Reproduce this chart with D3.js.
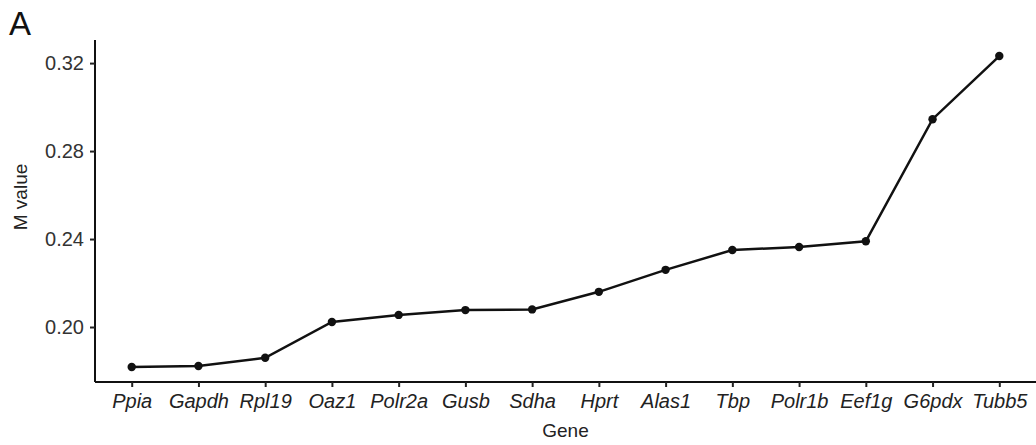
<!DOCTYPE html>
<html>
<head>
<meta charset="utf-8">
<script src="https://cdn.jsdelivr.net/npm/d3@7"></script>
<style>
  body { margin: 0; background: #fff; }
  text { font-family: "Liberation Sans", Arial, sans-serif; }
</style>
</head>
<body>
<svg id="chart" width="1036" height="445"></svg>
<script>
// genes in order of stability (x axis)
var genes = ["Ppia", "Gapdh", "Rpl19", "Oaz1", "Polr2a", "Gusb", "Sdha",
             "Hprt", "Alas1", "Tbp", "Polr1b", "Eef1g", "G6pdx", "Tubb5"];
// geNorm M values
var mValues = [0.1818, 0.1823, 0.186, 0.2023, 0.2055, 0.2077, 0.208,
               0.216, 0.226, 0.235, 0.2364, 0.239, 0.2945, 0.3232];
var yTicks = [0.20, 0.24, 0.28, 0.32];

var svg = d3.select("#chart");
var mLeft = 95, mRight = 1036, mTop = 40, mBottom = 382;

var xScale = d3.scalePoint().domain(genes).range([mLeft, mRight]).padding(0.55);
var yScale = d3.scaleLinear().domain([0.175, 0.3305]).range([mBottom, mTop]);

// panel letter
svg.append("text")
    .attr("x", 9).attr("y", 35)
    .attr("font-size", 33)
    .attr("fill", "#111")
    .text("A");

// y axis
var yAxis = svg.append("g")
    .attr("transform", "translate(" + mLeft + ",0)")
    .call(d3.axisLeft(yScale).tickValues(yTicks).tickFormat(d3.format(".2f")).tickSize(5).tickPadding(6));
yAxis.select(".domain").attr("stroke", "#111").attr("stroke-width", 2).attr("d", "M0," + mTop + "V" + mBottom);
yAxis.selectAll(".tick line").attr("stroke", "#222").attr("stroke-width", 2);
yAxis.selectAll(".tick text").attr("font-size", 20).attr("fill", "#333")
    .attr("font-family", "Liberation Sans, Arial, sans-serif");

// x axis
var xAxis = svg.append("g")
    .attr("transform", "translate(0," + mBottom + ")")
    .call(d3.axisBottom(xScale).tickSize(5).tickPadding(7));
xAxis.select(".domain").attr("stroke", "#111").attr("stroke-width", 2).attr("d", "M" + mLeft + ",0H" + mRight);
xAxis.selectAll(".tick line").attr("stroke", "#222").attr("stroke-width", 2);
xAxis.selectAll(".tick text").attr("font-size", 20).attr("fill", "#222")
    .attr("font-style", "italic")
    .attr("font-family", "Liberation Sans, Arial, sans-serif");

// axis titles
svg.append("text")
    .attr("x", (mLeft + mRight) / 2).attr("y", 437)
    .attr("text-anchor", "middle")
    .attr("font-size", 19).attr("fill", "#222")
    .text("Gene");
svg.append("text")
    .attr("transform", "translate(27,197) rotate(-90)")
    .attr("text-anchor", "middle")
    .attr("font-size", 19).attr("fill", "#222")
    .text("M value");

// line and points
var line = d3.line()
    .x(function(d, i) { return xScale(genes[i]); })
    .y(function(d) { return yScale(d); });

svg.append("path")
    .datum(mValues)
    .attr("d", line)
    .attr("fill", "none")
    .attr("stroke", "#111")
    .attr("stroke-width", 2.5);

svg.selectAll("circle.pt")
    .data(mValues)
    .enter()
    .append("circle")
    .attr("class", "pt")
    .attr("cx", function(d, i) { return xScale(genes[i]); })
    .attr("cy", function(d) { return yScale(d); })
    .attr("r", 4.2)
    .attr("fill", "#111");
</script>
</body>
</html>
